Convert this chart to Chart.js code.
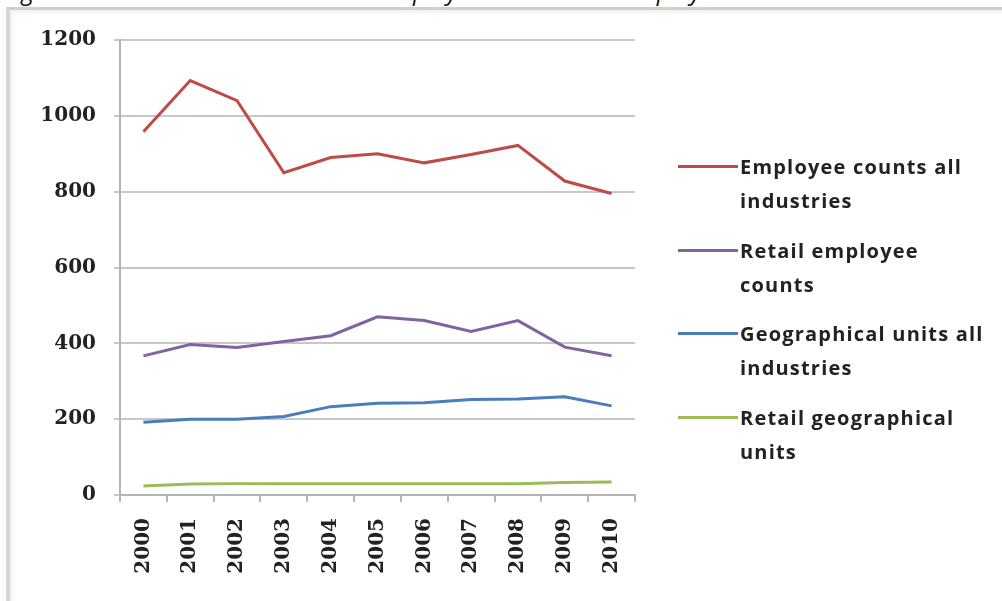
<!DOCTYPE html>
<html lang="en">
<head>
    <meta charset="UTF-8">
    <title>Employee counts and geographical units</title>
    <script src="https://cdn.jsdelivr.net/npm/chart.js"></script>
    <style>
        html, body {
            margin: 0;
            padding: 0;
            background: #fff;
            width: 1002px;
            height: 601px;
            overflow: hidden;
        }
        .caption {
            position: absolute;
            left: 4px;
            top: -26px;
            font-family: 'Open Sans', sans-serif;
            font-style: italic;
            font-size: 24px;
            line-height: 33px;
            color: #111;
            white-space: nowrap;
            word-spacing: 4px;
        }
        .frame {
            position: absolute;
            left: 6px;
            top: 7px;
            right: -10px;
            bottom: -10px;
            border-top: 3px solid #cfcfcf;
            border-left: 4px solid #d6d6d6;
            box-shadow: inset 2px 3px 4px rgba(0,0,0,0.06);
            background: #fff;
        }
        #chart {
            position: absolute;
            left: 0;
            top: 0;
        }
        .legend {
            position: absolute;
            left: 678px;
            top: 150px;
            font-family: 'Open Sans', sans-serif;
            font-weight: bold;
            font-size: 20px;
            letter-spacing: 1.2px;
            color: #222;
        }
        .legend .item {
            position: relative;
            height: 83.5px;
        }
        .legend .swatch {
            position: absolute;
            left: 0;
            top: 15px;
            width: 60px;
            height: 3px;
        }
        .legend .text {
            position: absolute;
            left: 62px;
            top: 0;
            line-height: 34px;
            white-space: nowrap;
        }
    </style>
</head>
<body>
    <div class="caption">Figure 6: Retail and all industries Employee counts and employment</div>
    <div class="frame"></div>
    <canvas id="chart" width="1002" height="601"></canvas>
    <div class="legend" id="legend"></div>

    <script>
        const years = ['2000', '2001', '2002', '2003', '2004', '2005', '2006', '2007', '2008', '2009', '2010'];

        const employeeCountsAll = [958, 1093, 1040, 850, 890, 900, 876, 898, 922, 828, 795];
        const retailEmployeeCounts = [367, 397, 389, 405, 420, 470, 460, 431, 460, 390, 367];
        const geoUnitsAll = [192, 200, 200, 207, 233, 242, 243, 252, 253, 259, 235];
        const retailGeoUnits = [24, 29, 30, 30, 30, 30, 30, 30, 30, 33, 34];

        const seriesNames = [
            ['Employee counts all', 'industries'],
            ['Retail employee', 'counts'],
            ['Geographical units all', 'industries'],
            ['Retail geographical', 'units']
        ];
        const seriesColors = ['#BE4B48', '#8064A2', '#4A7EBB', '#9BBB59'];
        const seriesData = [employeeCountsAll, retailEmployeeCounts, geoUnitsAll, retailGeoUnits];

        const datasets = seriesData.map((d, i) => ({
            label: seriesNames[i].join(' '),
            data: d,
            borderColor: seriesColors[i],
            borderWidth: 3,
            pointRadius: 0,
            tension: 0,
            fill: false
        }));

        const axisFont = { family: "'DejaVu Serif', serif", size: 20, weight: 'bold' };

        new Chart(document.getElementById('chart'), {
            type: 'line',
            data: { labels: years, datasets: datasets },
            options: {
                responsive: false,
                animation: false,
                layout: { padding: { top: 40, right: 367, left: 0, bottom: 0 } },
                plugins: {
                    legend: { display: false },
                    tooltip: { enabled: false }
                },
                scales: {
                    x: {
                        offset: true,
                        afterFit: s => { s.height = 106; },
                        grid: {
                            offset: true,
                            drawOnChartArea: false,
                            drawTicks: true,
                            tickLength: 7,
                            color: '#b5b5b5',
                            lineWidth: 2
                        },
                        border: { color: '#b5b5b5', width: 2 },
                        ticks: {
                            color: '#222',
                            font: axisFont,
                            minRotation: 90,
                            maxRotation: 90,
                            padding: 16,
                            autoSkip: false
                        }
                    },
                    y: {
                        min: 0,
                        max: 1200,
                        afterFit: s => { s.width = 120; },
                        grid: {
                            color: '#c8c8c8',
                            lineWidth: 2,
                            drawTicks: true,
                            tickLength: 6
                        },
                        border: { color: '#b5b5b5', width: 2 },
                        ticks: {
                            stepSize: 200,
                            color: '#222',
                            font: axisFont,
                            padding: 18,
                            callback: v => String(v)
                        }
                    }
                }
            }
        });

        // legend on the right, two text lines per series
        const legend = document.getElementById('legend');
        seriesNames.forEach((lines, i) => {
            const item = document.createElement('div');
            item.className = 'item';
            item.innerHTML = '<div class="swatch" style="background:' + seriesColors[i] + '"></div>' +
                '<div class="text">' + lines.join('<br>') + '</div>';
            legend.appendChild(item);
        });
    </script>
</body>
</html>
